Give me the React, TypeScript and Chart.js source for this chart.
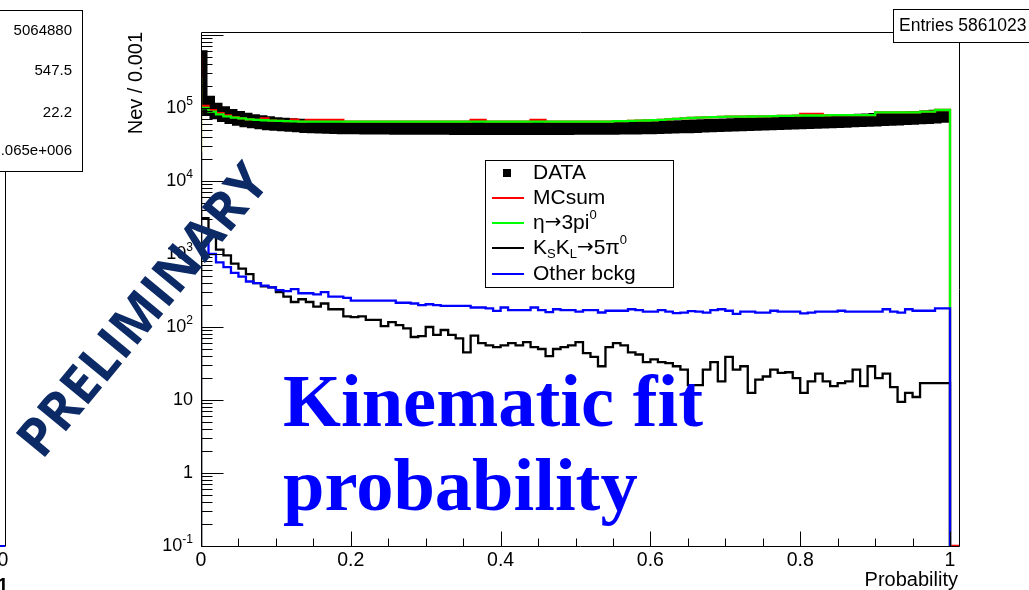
import React, { useEffect, useRef } from "react";
import { Chart, registerables } from "chart.js";

Chart.register(...registerables);

// ---------- axis ranges ----------
const BIN_WIDTH = 0.01;
const X_MIN = 0;
const X_MAX = 1.012;
const Y_MIN = 0.1;
const Y_MAX = 1.1e6;

// ---------- series (100 bins of 0.01 in fit probability) ----------
const DATA_VALUES = [
  620000, 120000, 96000, 86000, 79000, 74000, 70000, 67000, 65000, 63000,
  61000, 60000, 59000, 58000, 57000, 56000, 55500, 55000, 54500, 54000,
  53800, 53600, 53500, 53400, 53300, 53200, 53100, 53000, 53000, 53000,
  52900, 52800, 52800, 52700, 52700, 52600, 52600, 52500, 52500, 52500,
  52500, 52500, 52500, 52500, 52500, 52500, 52500, 52500, 52600, 52600,
  52700, 52700, 52800, 52800, 52900, 53000, 53100, 53200, 53400, 53600,
  53800, 54100, 54400, 54800, 55200, 55600, 56000, 56500, 57000, 57500,
  58000, 58500, 59000, 59500, 60000, 60500, 61000, 61500, 62000, 62500,
  63000, 63500, 64000, 64500, 65000, 65500, 66000, 66700, 67400, 68000,
  68700, 69400, 70000, 70800, 71600, 72400, 73300, 74300, 75500, 77000,
];

const MCSUM_VALUES = [
  540000, 107000, 94000, 85000, 79000, 75000, 72000, 70000, 69000, 72000,
  67000, 66500, 66000, 69500, 65000, 69000, 69000, 69000, 69000, 69000,
  65000, 65000, 65000, 65000, 65000, 65000, 65000, 65000, 65000, 65000,
  65000, 65000, 65000, 65000, 65000, 65000, 65000, 69000, 69000, 65000,
  65000, 65000, 65000, 65000, 65000, 69000, 69000, 65000, 65000, 65000,
  65000, 65000, 65000, 65000, 65000, 65000, 66000, 66000, 66500, 67000,
  67500, 68000, 69000, 70000, 71000, 72000, 73000, 74000, 74500, 75000,
  75500, 76000, 76000, 76000, 76500, 77000, 77000, 77500, 78000, 78000,
  78500, 83000, 83000, 83000, 79500, 80000, 80000, 80000, 80000, 80000,
  80000, 87000, 87000, 87000, 87000, 87000, 87000, 89000, 89000, 94000,
];

const ETA_3PI0_VALUES = [
  260000, 100000, 89000, 82000, 77000, 74000, 72000, 70000, 69000, 68000,
  67000, 66500, 66000, 65500, 65000, 65000, 65000, 65000, 65000, 65000,
  65000, 65000, 65000, 65000, 65000, 65000, 65000, 65000, 65000, 65000,
  65000, 65000, 65000, 65000, 65000, 65000, 65000, 65000, 65000, 65000,
  65000, 65000, 65000, 65000, 65000, 65000, 65000, 65000, 65000, 65000,
  65000, 65000, 65000, 65000, 65000, 65000, 66000, 66000, 66500, 67000,
  67500, 68000, 69000, 70000, 71000, 72000, 73000, 74000, 74500, 75000,
  75500, 76000, 76000, 76000, 76500, 77000, 77000, 77500, 78000, 78000,
  78500, 79000, 79000, 79000, 79500, 80000, 80000, 80000, 80000, 80000,
  80000, 87000, 87000, 87000, 87000, 87000, 87000, 89000, 89000, 94000,
];

const KSKL_5PI0_VALUES = [
  4500, 3100, 1900, 1150, 960, 740, 630, 530, 400, 360,
  350, 300, 260, 220, 240, 220, 190, 210, 175, 175,
  140, 137, 140, 125, 125, 103, 117, 106, 96, 73,
  75, 100, 78, 91, 78, 70, 45, 76, 60, 56,
  53, 56, 60, 56, 62, 53, 50, 40, 50, 53,
  56, 62, 44, 39, 29, 53, 60, 56, 45, 42,
  33, 36, 33, 32, 29, 26, 16, 16, 26, 33,
  18, 39, 26, 29, 12.5, 19, 21, 26, 23.5, 24,
  20, 12.5, 18, 23, 18, 15.5, 17, 18, 26, 15.5,
  29, 20, 23, 15, 9.4, 12.5, 11, 17, 17, 17,
];

const OTHER_BCKG_VALUES = [
  25000, 1400, 1000, 770, 660, 550, 490, 420, 400, 370,
  350, 320, 310, 330, 290, 290, 280, 300, 260, 260,
  250, 230, 230, 230, 230, 230, 230, 215, 215, 210,
  200, 205, 200, 195, 195, 195, 195, 185, 185, 180,
  166, 185, 170, 170, 170, 185, 170, 160, 175, 170,
  170, 162, 170, 170, 158, 167, 167, 167, 175, 170,
  162, 162, 170, 162, 155, 157, 165, 162, 157, 170,
  175, 167, 151, 162, 162, 157, 157, 167, 162, 162,
  162, 154, 157, 162, 162, 162, 167, 162, 162, 162,
  162, 162, 175, 162, 157, 175, 167, 167, 167, 180,
];

// ---------- labels ----------
const X_TICK_VALUES = [0, 0.2, 0.4, 0.6, 0.8, 1];
const X_TICK_LABELS = ["0", "0.2", "0.4", "0.6", "0.8", "1"];
const Y_TICK_VALUES = [0.1, 1, 10, 100, 1000, 10000, 100000];
const Y_TICK_LABELS: [string, string][] = [
  ["10", "-1"], ["1", ""], ["10", ""], ["10", "2"], ["10", "3"], ["10", "4"], ["10", "5"],
];
const X_TITLE = "Probability";
const Y_TITLE = "Nev / 0.001";
const ENTRIES_TEXT = "Entries 5861023";
const LEFT_STATS = ["5064880", "547.5", "22.2", "5.065e+006"];
const LEFT_AXIS_TEXT = ["0", "1"];
type Part = { t: string; s?: "sub" | "sup"; sym?: boolean };
const LEGEND_LABELS: Part[][] = [
  [{ t: "DATA" }],
  [{ t: "MCsum" }],
  [{ t: "η" }, { t: "→", sym: true }, { t: "3pi" }, { t: "0", s: "sup" }],
  [{ t: "K" }, { t: "S", s: "sub" }, { t: "K" }, { t: "L", s: "sub" }, { t: "→", sym: true }, { t: "5π" }, { t: "0", s: "sup" }],
  [{ t: "Other bckg" }],
];
const LEGEND_KINDS = ["marker", "line", "line", "line", "line"];
const LEGEND_COLORS = ["#000000", "#ff0000", "#00ff00", "#000000", "#0000ff"];
const WATERMARK = "PRELIMINARY";
const NOTE_LINES = ["Kinematic fit", "probability"];

const SANS = '"Liberation Sans", Arial, Helvetica, sans-serif';
const SYM = '"DejaVu Sans", sans-serif';
const SERIF = '"Liberation Serif", "Times New Roman", serif';

type Pt = { x: number; y: number };
function histPoints(values: number[], closeLeft: boolean, closeRight: boolean, tail: boolean): Pt[] {
  const pts: Pt[] = [];
  if (closeLeft) pts.push({ x: 0, y: Y_MIN });
  values.forEach((v, i) => pts.push({ x: i * BIN_WIDTH, y: v }));
  const end = values.length * BIN_WIDTH;
  pts.push({ x: end, y: values[values.length - 1] });
  if (closeRight) pts.push({ x: end, y: Y_MIN });
  if (tail) pts.push({ x: X_MAX, y: Y_MIN });
  return pts;
}

function partFont(p: Part, size: number, ratio: number, family: string) {
  const fs = p.s ? size * ratio : p.sym ? size * 0.95 : size;
  return `${fs}px ${p.sym ? SYM : family}`;
}
function richWidth(ctx: CanvasRenderingContext2D, parts: Part[], size: number, ratio: number, family: string) {
  let w = 0;
  for (const p of parts) {
    ctx.font = partFont(p, size, ratio, family);
    w += ctx.measureText(p.t).width;
  }
  return w;
}
function drawRich(ctx: CanvasRenderingContext2D, parts: Part[], x: number, y: number, size: number, ratio: number, supUp: number, subDown: number, family: string) {
  let cx = x;
  ctx.textAlign = "left";
  ctx.textBaseline = "middle";
  for (const p of parts) {
    ctx.font = partFont(p, size, ratio, family);
    const dy = p.s === "sup" ? -supUp : p.s === "sub" ? subDown : 0;
    ctx.fillText(p.t, cx, y + dy);
    cx += ctx.measureText(p.t).width;
  }
}

const decorPlugin = {
  id: "decor",
  beforeDraw(chart: any) {
    const ctx = chart.ctx as CanvasRenderingContext2D;
    ctx.save();
    ctx.fillStyle = "#ffffff";
    ctx.fillRect(0, 0, chart.width, chart.height);
    ctx.restore();
  },
  afterDraw(chart: any) {
    const ctx = chart.ctx as CanvasRenderingContext2D;
    const xs = chart.scales.x;
    const ys = chart.scales.y;
    const a = chart.chartArea;
    const L = Math.round(a.left) + 0.5;
    const R = Math.round(a.right) + 0.5;
    const T = Math.round(a.top) + 0.5;
    const B = Math.round(a.bottom) + 0.5;
    ctx.save();
    ctx.strokeStyle = "#000";
    ctx.fillStyle = "#000";
    ctx.lineWidth = 1;
    // frame
    ctx.beginPath();
    ctx.moveTo(L, B); ctx.lineTo(R, B); ctx.lineTo(R, T); ctx.lineTo(L, T); ctx.closePath();
    ctx.stroke();
    // x ticks
    ctx.beginPath();
    for (let k = 0; k <= 20; k++) {
      const v = k * 0.05;
      const px = Math.round(xs.getPixelForValue(v)) + 0.5;
      const len = k % 4 === 0 ? 15 : 8;
      ctx.moveTo(px, B); ctx.lineTo(px, B - len);
    }
    // y ticks
    for (let d = -1; d <= 6; d++) {
      for (let m = 1; m <= 9; m++) {
        const v = m * Math.pow(10, d);
        if (v < Y_MIN * 0.999 || v > Y_MAX) continue;
        const py = Math.round(ys.getPixelForValue(v)) + 0.5;
        const len = m === 1 ? 22 : 11;
        ctx.moveTo(L, py); ctx.lineTo(L + len, py);
      }
    }
    ctx.stroke();
    // x labels
    ctx.font = `19.5px ${SANS}`;
    ctx.textAlign = "center";
    ctx.textBaseline = "middle";
    X_TICK_VALUES.forEach((v, i) => ctx.fillText(X_TICK_LABELS[i], xs.getPixelForValue(v), 561));
    // y labels
    Y_TICK_VALUES.forEach((v, i) => {
      const [base, exp] = Y_TICK_LABELS[i];
      const parts: Part[] = exp ? [{ t: base }, { t: exp, s: "sup" }] : [{ t: base }];
      const w = richWidth(ctx, parts, 18, 0.67, SANS);
      drawRich(ctx, parts, 193 - w, ys.getPixelForValue(v), 18, 0.67, 6, 0, SANS);
    });
    // titles
    ctx.font = `20px ${SANS}`;
    ctx.textAlign = "right";
    ctx.textBaseline = "middle";
    ctx.fillText(X_TITLE, 958, 580);
    ctx.save();
    ctx.translate(136, 32);
    ctx.rotate(-Math.PI / 2);
    ctx.textAlign = "right";
    ctx.fillText(Y_TITLE, 0, 0);
    ctx.restore();

    // entries box
    ctx.fillStyle = "#fff";
    ctx.fillRect(893.5, 9.5, 140, 33);
    ctx.strokeRect(893.5, 9.5, 140, 33);
    ctx.fillStyle = "#000";
    ctx.font = `17.5px ${SANS}`;
    ctx.textAlign = "left";
    ctx.fillText(ENTRIES_TEXT, 899, 26);

    // left panel remnants
    ctx.fillStyle = "#fff";
    ctx.fillRect(-2, 10.5, 84.5, 161);
    ctx.strokeRect(-2, 10.5, 84.5, 161);
    ctx.fillStyle = "#000";
    ctx.font = `15px ${SANS}`;
    ctx.textAlign = "right";
    const statY = [31, 71, 113, 151];
    LEFT_STATS.forEach((s, i) => ctx.fillText(s, 72, statY[i]));
    ctx.beginPath();
    ctx.moveTo(5.5, 171.5); ctx.lineTo(5.5, 546.5);
    ctx.stroke();
    ctx.strokeStyle = "#0000ff";
    ctx.lineWidth = 2;
    ctx.beginPath();
    ctx.moveTo(0, 546); ctx.lineTo(5, 546);
    ctx.stroke();
    ctx.strokeStyle = "#000";
    ctx.lineWidth = 1;
    ctx.font = `19.5px ${SANS}`;
    ctx.textAlign = "center";
    ctx.fillText(LEFT_AXIS_TEXT[0], 3, 561);
    ctx.font = `bold 19.5px ${SANS}`;
    ctx.fillText(LEFT_AXIS_TEXT[1], 3, 587);

    // legend
    ctx.fillStyle = "#fff";
    ctx.fillRect(485.5, 160.5, 188, 127);
    ctx.strokeRect(485.5, 160.5, 188, 127);
    const rowY = [173, 198, 223, 248, 274];
    LEGEND_LABELS.forEach((parts, i) => {
      const y = rowY[i];
      if (LEGEND_KINDS[i] === "marker") {
        ctx.fillStyle = LEGEND_COLORS[i];
        ctx.fillRect(503, y - 4, 8, 8);
      } else {
        ctx.strokeStyle = LEGEND_COLORS[i];
        ctx.lineWidth = 2;
        ctx.beginPath();
        ctx.moveTo(492, y); ctx.lineTo(524, y);
        ctx.stroke();
      }
      ctx.fillStyle = "#000";
      drawRich(ctx, parts, 533, y, 21, 0.62, 8, 6, SANS);
    });

    // big annotation
    ctx.fillStyle = "#0000ff";
    ctx.font = `bold 74.5px ${SERIF}`;
    ctx.textAlign = "left";
    ctx.textBaseline = "alphabetic";
    ctx.fillText(NOTE_LINES[0], 283, 426);
    ctx.fillText(NOTE_LINES[1], 283, 510);

    // watermark
    ctx.save();
    ctx.translate(145, 312);
    ctx.rotate((-50.5 * Math.PI) / 180);
    ctx.fillStyle = "#0c2a66";
    ctx.font = `bold 53px "Open Sans", ${SANS}`;
    ctx.textAlign = "center";
    ctx.textBaseline = "middle";
    ctx.fillText(WATERMARK, 0, 0);
    ctx.restore();

    ctx.restore();
  },
};

export default function App() {
  const ref = useRef<HTMLCanvasElement | null>(null);
  useEffect(() => {
    if (!ref.current) return;
    const common = {
      pointRadius: 0,
      pointHoverRadius: 0,
      stepped: "after" as const,
      fill: false,
      tension: 0,
      borderCapStyle: "butt" as const,
      borderJoinStyle: "miter" as const,
    };
    const chart = new Chart(ref.current, {
      type: "line",
      data: {
        datasets: [
          { ...common, label: "Other bckg", data: histPoints(OTHER_BCKG_VALUES, true, true, false), borderColor: "#0000ff", borderWidth: 2.3, order: 1 },
          { ...common, label: "KSKL", data: histPoints(KSKL_5PI0_VALUES, true, true, false), borderColor: "#000000", borderWidth: 2.3, order: 2 },
          { ...common, label: "eta", data: histPoints(ETA_3PI0_VALUES, true, true, false), borderColor: "#00ff00", borderWidth: 2.3, order: 3 },
          { ...common, label: "MCsum", data: histPoints(MCSUM_VALUES, true, true, true), borderColor: "#ff0000", borderWidth: 2.3, order: 4 },
          { ...common, label: "DATA", data: histPoints(DATA_VALUES, false, false, false), borderColor: "#000000", borderWidth: 13, order: 5 },
        ] as any,
      },
      options: {
        responsive: false,
        animation: false,
        devicePixelRatio: 1,
        layout: { padding: { left: 201, right: 70, top: 32, bottom: 44 } },
        scales: {
          x: { type: "linear", min: X_MIN, max: X_MAX, display: false },
          y: { type: "logarithmic", min: Y_MIN, max: Y_MAX, display: false },
        },
        plugins: { legend: { display: false }, tooltip: { enabled: false } },
        events: [],
      },
      plugins: [decorPlugin],
    });
    return () => chart.destroy();
  }, []);
  return (
    <div style={{ position: "fixed", left: 0, top: 0, width: 1029, height: 590, background: "#fff" }}>
      <canvas ref={ref} width={1029} height={590} style={{ display: "block" }} />
    </div>
  );
}
